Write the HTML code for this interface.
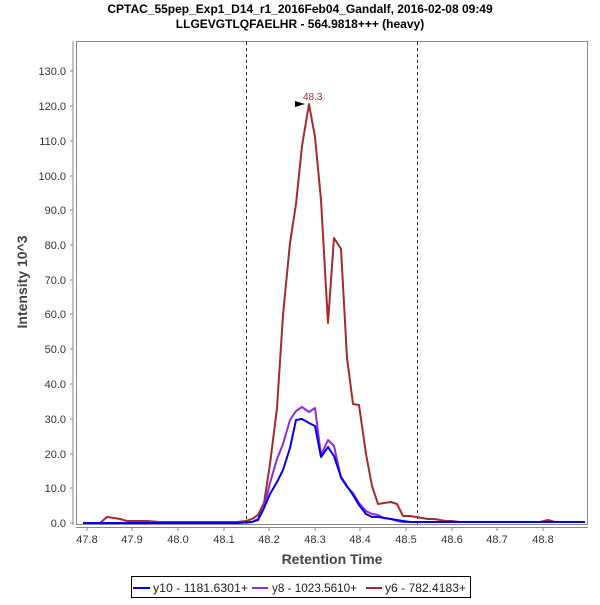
<!DOCTYPE html>
<html><head><style>
body{margin:0;background:#fff;width:600px;height:600px;overflow:hidden;font-family:"Liberation Sans",sans-serif}
</style></head><body>
<svg width="600" height="600" viewBox="0 0 600 600" xmlns="http://www.w3.org/2000/svg" font-family="Liberation Sans, sans-serif">
<text x="300" y="13" text-anchor="middle" font-size="12" font-weight="bold">CPTAC_55pep_Exp1_D14_r1_2016Feb04_Gandalf, 2016-02-08 09:49</text>
<text x="300" y="28" text-anchor="middle" font-size="12" font-weight="bold">LLGEVGTLQFAELHR - 564.9818+++ (heavy)</text>
<rect x="76.5" y="41.5" width="511" height="483" fill="none" stroke="#888"/>
<line x1="73" y1="41" x2="73" y2="525" stroke="#888"/>
<line x1="76" y1="527.5" x2="588" y2="527.5" stroke="#888"/>
<g font-size="11" fill="#333" text-anchor="end">
<text x="66" y="527">0.0</text><text x="66" y="492">10.0</text><text x="66" y="458">20.0</text><text x="66" y="423">30.0</text><text x="66" y="388">40.0</text><text x="66" y="353">50.0</text><text x="66" y="318">60.0</text><text x="66" y="284">70.0</text><text x="66" y="249">80.0</text><text x="66" y="214">90.0</text><text x="66" y="180">100.0</text><text x="66" y="145">110.0</text><text x="66" y="110">120.0</text><text x="66" y="75">130.0</text>
</g>
<g stroke="#888"><line x1="70" y1="523" x2="73" y2="523"/><line x1="70" y1="488" x2="73" y2="488"/><line x1="70" y1="454" x2="73" y2="454"/><line x1="70" y1="419" x2="73" y2="419"/><line x1="70" y1="384" x2="73" y2="384"/><line x1="70" y1="349" x2="73" y2="349"/><line x1="70" y1="314" x2="73" y2="314"/><line x1="70" y1="280" x2="73" y2="280"/><line x1="70" y1="245" x2="73" y2="245"/><line x1="70" y1="210" x2="73" y2="210"/><line x1="70" y1="176" x2="73" y2="176"/><line x1="70" y1="141" x2="73" y2="141"/><line x1="70" y1="106" x2="73" y2="106"/><line x1="70" y1="71" x2="73" y2="71"/></g>
<g font-size="11" fill="#333" text-anchor="middle">
<text x="87" y="543">47.8</text><text x="132" y="543">47.9</text><text x="178" y="543">48.0</text><text x="224" y="543">48.1</text><text x="269" y="543">48.2</text><text x="315" y="543">48.3</text><text x="360" y="543">48.4</text><text x="406" y="543">48.5</text><text x="452" y="543">48.6</text><text x="497" y="543">48.7</text><text x="543" y="543">48.8</text>
</g>
<g stroke="#888"><line x1="87" y1="527" x2="87" y2="531"/><line x1="132" y1="527" x2="132" y2="531"/><line x1="178" y1="527" x2="178" y2="531"/><line x1="224" y1="527" x2="224" y2="531"/><line x1="269" y1="527" x2="269" y2="531"/><line x1="315" y1="527" x2="315" y2="531"/><line x1="360" y1="527" x2="360" y2="531"/><line x1="406" y1="527" x2="406" y2="531"/><line x1="452" y1="527" x2="452" y2="531"/><line x1="497" y1="527" x2="497" y2="531"/><line x1="543" y1="527" x2="543" y2="531"/></g>
<text x="332" y="564" text-anchor="middle" font-size="14" font-weight="bold" fill="#444">Retention Time</text>
<text transform="translate(27,282) rotate(-90)" text-anchor="middle" font-size="14" font-weight="bold" fill="#444">Intensity 10^3</text>
<line x1="246.5" y1="42" x2="246.5" y2="524" stroke="#222" stroke-dasharray="3,3"/>
<line x1="417.5" y1="42" x2="417.5" y2="524" stroke="#222" stroke-dasharray="3,3"/>
<g fill="none" stroke-width="2" stroke-linejoin="round">
<polyline stroke="#a52a2a" points="83,523 100,523 107,517 114,518 120,519 127,521 134,521 140,521 147,521 160,522 230,522 237,522 246,521 252,519 258,515 264,503 270,464 277,408 283,315 290,243 296,204 302,146 309,104 315,137 321,200 328,323 334,238 341,249 347,358 353,404 359,405 366,454 372,486 378,504 384,503 391,502 397,504 403,516 410,516 416,517 422,518 428,519 434,519 440,520 446,521 452,521 460,522 500,522 540,522 548,520 555,522 585,522"/>
<polyline stroke="#8a2be2" points="83,523 237,523 252,522 258,519 264,508 270,483 277,459 283,444 290,420 296,411 302,407 309,412 315,408 321,455 328,440 334,446 341,478 347,487 353,493 359,503 366,511 372,514 378,515 384,518 391,519 397,521 403,522 585,522"/>
<polyline stroke="#0000ee" points="83,523 237,523 252,522 258,520 264,508 270,494 277,482 283,470 290,448 296,420 302,419 309,423 315,426 321,457 328,447 334,456 341,477 347,486 353,495 359,505 366,514 372,517 378,517 384,518 391,519 397,520 403,521 410,522 585,522"/>
</g>
<polygon points="295,101 295,107 305,104" fill="#000"/>
<text x="303" y="100" font-size="10" fill="#a52a2a">48.3</text>
<rect x="131.5" y="576.5" width="339" height="21" fill="#fff" stroke="#000"/>
<g font-size="12" fill="#222">
<line x1="133" y1="588" x2="150" y2="588" stroke="#0000ee" stroke-width="2"/><text x="153" y="592" textLength="95" lengthAdjust="spacingAndGlyphs">y10 - 1181.6301+</text>
<line x1="252" y1="588" x2="268" y2="588" stroke="#8a2be2" stroke-width="2"/><text x="272" y="592" textLength="85" lengthAdjust="spacingAndGlyphs">y8 - 1023.5610+</text>
<line x1="366" y1="588" x2="382" y2="588" stroke="#a52a2a" stroke-width="2"/><text x="385" y="592" textLength="81" lengthAdjust="spacingAndGlyphs">y6 - 782.4183+</text>
</g>
</svg>
</body></html>
